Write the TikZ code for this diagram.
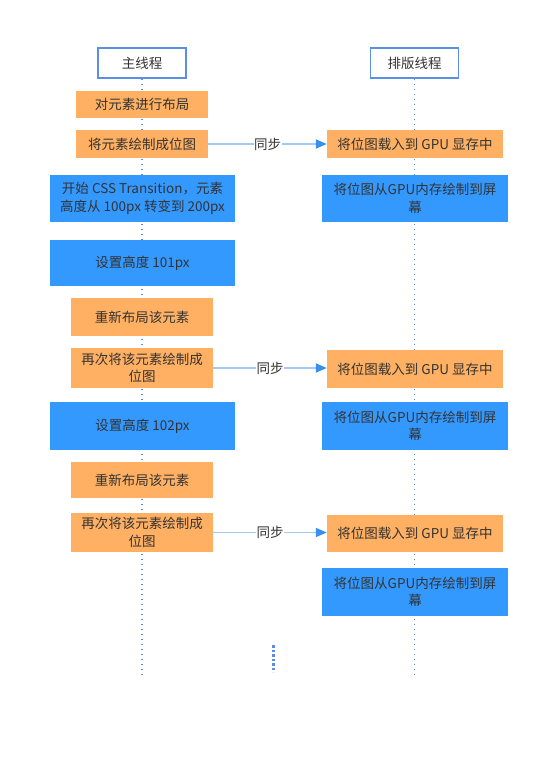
\documentclass[tikz,border=0pt]{standalone}
\usepackage{fontspec}
\setmainfont{Noto Sans CJK SC}
\usetikzlibrary{arrows.meta}

\definecolor{boxorange}{HTML}{FFB062}
\definecolor{boxblue}{HTML}{3399FF}
\definecolor{headblue}{HTML}{5A8FE6}
\definecolor{linkblue}{HTML}{A3C8F5}
\definecolor{tipblue}{HTML}{3A8EF2}
\definecolor{dotblue}{HTML}{5B8DDC}
\definecolor{textgray}{HTML}{333333}

\tikzset{
  every node/.style={font=\fontsize{13.5}{17.5}\selectfont, text=textgray, align=center, inner sep=0pt},
  header/.style={draw=headblue, line width=1.5pt, fill=white, minimum width=88pt, minimum height=30pt},
  orangebox/.style={fill=boxorange, minimum height=#1},
  bluebox/.style={fill=boxblue, minimum height=#1},
  thread/.style={dotblue, line width=1.5pt, dash pattern=on 1.5pt off 3.5pt},
  syncline/.style={linkblue, line width=1.5pt, -{Triangle[length=11pt,width=9pt,color=tipblue]}},
  synclabel/.style={fill=white, inner sep=0.5pt}
}

\begin{document}
\begin{tikzpicture}[x=1pt, y=1pt]
    \useasboundingbox (0,0) rectangle (540,-770);

    % Intestazioni dei thread
    \node[header] (mainhead)   at (142,-63)   {主线程};
    \node[header] (layouthead) at (414.5,-63) {排版线程};

    % Linee tratteggiate dei thread
    \coordinate (mainend)   at (142,-674);
    \coordinate (layoutend) at (414.5,-674);
    \draw[thread] (mainhead.south) -- (mainend);
    \draw[thread] (layouthead.south) -- (layoutend);

    % Colonna sinistra
    \node[orangebox=27pt, minimum width=132pt] (l1) at (142,-104.5) {对元素进行布局};
    \node[orangebox=28pt, minimum width=132pt] (l2) at (142,-144)   {将元素绘制成位图};
    \node[bluebox=47pt, minimum width=185pt]   (l3) at (142.5,-198.5) {开始 CSS Transition，元素\\高度从 100px 转变到 200px};
    \node[bluebox=46pt, minimum width=185pt]   (l4) at (142.5,-263) {设置高度 101px};
    \node[orangebox=38pt, minimum width=142pt] (l5) at (142,-317)   {重新布局该元素};
    \node[orangebox=40pt, minimum width=142pt] (l6) at (142,-368)   {再次将该元素绘制成\\位图};
    \node[bluebox=48pt, minimum width=185pt]   (l7) at (142.5,-426) {设置高度 102px};
    \node[orangebox=36pt, minimum width=142pt] (l8) at (142,-480)   {重新布局该元素};
    \node[orangebox=39pt, minimum width=142pt] (l9) at (142,-532.5) {再次将该元素绘制成\\位图};

    % Colonna destra
    \node[orangebox=28pt, minimum width=176pt] (r1) at (415,-144)   {将位图载入到 GPU 显存中};
    \node[bluebox=47pt, minimum width=186pt]   (r2) at (415,-198.5) {将位图从GPU内存绘制到屏\\幕};
    \node[orangebox=38pt, minimum width=176pt] (r3) at (415,-369)   {将位图载入到 GPU 显存中};
    \node[bluebox=48pt, minimum width=186pt]   (r4) at (415,-426)   {将位图从GPU内存绘制到屏\\幕};
    \node[orangebox=37pt, minimum width=176pt] (r5) at (415,-533.5) {将位图载入到 GPU 显存中};
    \node[bluebox=48pt, minimum width=186pt]   (r6) at (415,-592)   {将位图从GPU内存绘制到屏\\幕};

    % Frecce di sincronizzazione
    \draw[syncline] (l2.east) -- (l2.east -| r1.west) node[synclabel, midway] {同步};
    \draw[syncline] (l6.east) -- (l6.east -| r3.west) node[synclabel, midway] {同步};
    \draw[syncline] (l9.east) -- (l9.east -| r5.west) node[synclabel, midway] {同步};

    % Puntini centrali
    \coordinate (gaptop) at (273,-645);
    \coordinate (gapbot) at (273,-672);
    \draw[dotblue, line width=3pt, dash pattern=on 2.5pt off 2pt] (gaptop) -- (gapbot);
\end{tikzpicture}
\end{document}
